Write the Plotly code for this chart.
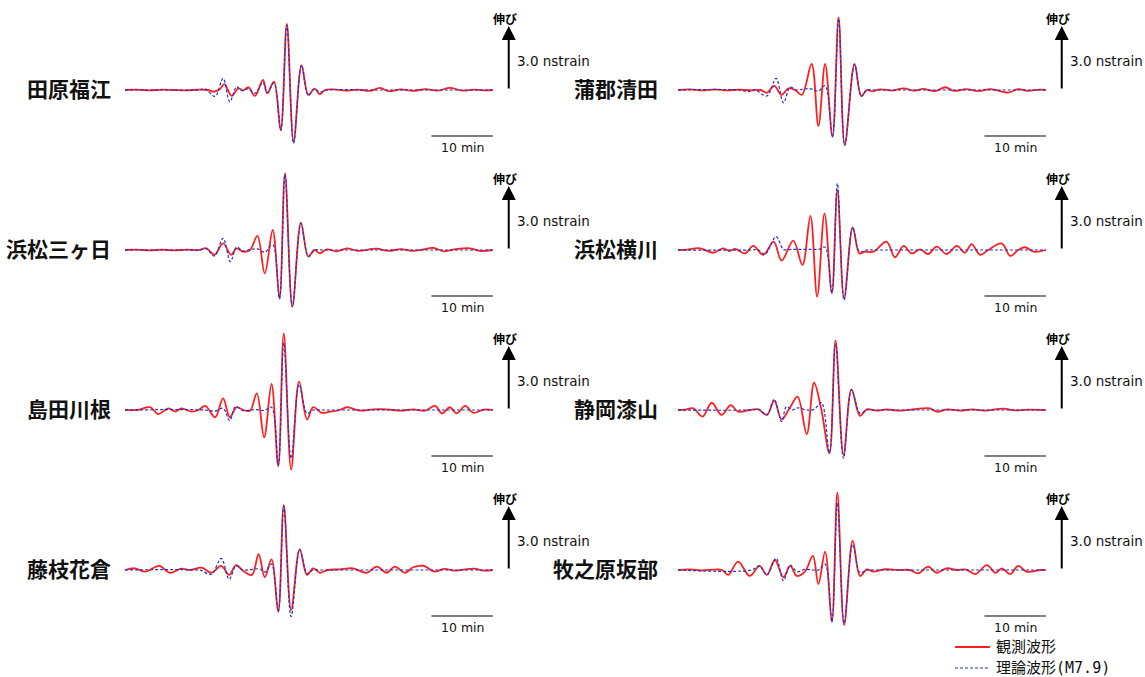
import plotly.graph_objects as go

W, H = 1145, 677

stations = ["田原福江", "蒲郡清田", "浜松三ヶ日", "浜松横川",
            "島田川根", "静岡漆山", "藤枝花倉", "牧之原坂部"]

# ---- observed (red) and theoretical M7.9 (blue) strain, time in min, strain in nstrain ----
tahara_obs_t = [0, 2, 4, 6, 8, 10, 12, 13.5, 14.5, 15.5, 16.2, 17.4, 18.5, 19.3, 20.1, 21.2, 22.5, 23.2, 24.3,
                25.4, 26.4, 27.5, 28.8, 29.9, 30.9, 31.8, 32.6, 34, 36, 38, 40, 41.6, 43, 45, 47, 49, 51, 53, 55,
                57, 59, 60]
tahara_obs_v = [0, 0.02, -0.02, 0.02, 0, -0.02, 0.02, 0, -0.08, 0.05, 0.28, -0.28, 0.08, -0.02, 0.13, -0.28, 0.47,
                -0.16, 0.39, -1.88, 3.10, -2.43, 1.17, -0.23, 0.06, -0.20, 0.0, 0.03, -0.03, 0.02, -0.04, 0.1,
                -0.05, 0.03, -0.04, 0.04, -0.03, 0.1, -0.03, 0.02, -0.02, 0]
tahara_syn_t = [0, 10, 12, 13, 14.7, 16.0, 17.1, 18.2, 19.0, 20.1, 21.2, 22.5, 23.2, 24.3, 25.4, 26.4, 27.5, 28.8,
                29.9, 30.9, 31.8, 33, 40, 50, 60]
tahara_syn_v = [0, 0, 0, 0.06, -0.3, 0.55, -0.55, 0.15, -0.03, 0.05, -0.15, 0.35, -0.12, 0.32, -1.9, 3.05, -2.5,
                1.15, -0.25, 0.05, -0.1, 0, 0, 0, 0]

gamagori_obs_t = [0, 2, 4, 6, 8, 10, 12, 13.5, 14.5, 15.7, 16.9, 18.0, 19.1, 20.2, 21.8, 22.9, 24.0, 25.2, 26.2,
                  27.2, 28.8, 29.9, 30.8, 31.6, 33, 35, 36.8, 38.5, 40, 42, 43.6, 45, 47, 49, 51, 53.9, 55.5, 57,
                  59, 60]
gamagori_obs_v = [0, 0.03, -0.02, 0.03, -0.02, 0.02, -0.02, 0, -0.13, 0.19, -0.23, 0.08, 0, -0.23, 1.22, -1.69,
                  1.22, -2.19, 3.41, -2.58, 1.22, -0.28, 0.0, -0.06, 0.03, -0.03, 0.08, -0.03, 0.05, -0.05, 0.13,
                  -0.04, 0.04, -0.05, 0.04, -0.12, 0.04, -0.04, 0.02, 0]
gamagori_syn_t = [0, 10, 11.5, 12.5, 14.5, 16.0, 17.2, 18.3, 19.3, 20.2, 21.5, 22.9, 24.0, 25.2, 26.2, 27.2, 28.8,
                  29.9, 30.8, 32, 40, 50, 60]
gamagori_syn_v = [0, 0, -0.08, 0.02, -0.28, 0.55, -0.6, 0.13, 0, 0.03, 0.06, -0.05, 0.2, -2.2, 3.35, -2.6, 1.2,
                  -0.3, 0.0, 0, 0, 0, 0]

mikkabi_obs_t = [0, 2, 4, 6, 8, 10, 12, 13.3, 14.6, 16.0, 17.3, 18.2, 19.3, 20.4, 21.6, 22.8, 24.1, 25.2, 26.1,
                 27.3, 28.7, 29.9, 30.9, 31.8, 32.9, 34.5, 36.2, 38, 41, 43, 45, 47, 48.5, 50.3, 52, 54, 56.3, 58,
                 60]
mikkabi_obs_v = [0, 0.02, -0.02, 0.02, -0.02, 0.02, 0, 0.08, -0.23, 0.31, -0.23, 0.08, -0.08, 0, 0.66, -1.1, 0.94,
                 -2.27, 3.6, -2.66, 1.28, -0.31, 0, -0.16, 0.03, -0.06, 0.08, -0.04, 0.06, -0.04, 0.04, -0.04,
                 0.02, 0.1, -0.06, 0.04, 0.08, -0.05, 0]
mikkabi_syn_t = [0, 10, 12, 13.3, 14.6, 16.0, 17.2, 18.2, 19.3, 20.4, 21.6, 22.8, 24.1, 25.2, 26.1, 27.3, 28.7,
                 29.9, 30.9, 32, 40, 50, 60]
mikkabi_syn_v = [0, 0, 0, 0.05, -0.28, 0.55, -0.55, 0.13, -0.05, 0.02, 0.05, -0.1, 0.25, -2.3, 3.55, -2.65, 1.25,
                 -0.3, 0.0, 0, 0, 0, 0]

yokogawa_obs_t = [0, 1.5, 3.6, 5.8, 7.4, 8.4, 9.3, 10.9, 12.3, 13.9, 15.6, 16.9, 18.8, 20.3, 21.6, 22.7, 23.9, 25.1,
                  26.0, 27.1, 28.5, 29.6, 30.5, 31.9, 34.0, 35.4, 36.8, 38.1, 39.5, 40.8, 42.2, 43.8, 45.5, 46.8,
                  47.9, 49.3, 50.6, 52.8, 54.2, 55.5, 56.6, 58.0, 60]
yokogawa_obs_v = [0, 0.02, 0.08, -0.13, 0.08, -0.05, 0.05, -0.16, 0.19, -0.23, 0.39, -0.5, 0.44, -0.7, 1.6, -2.19,
                  1.72, -2.03, 2.82, -2.27, 1.06, -0.16, -0.08, -0.08, 0.39, -0.34, 0.19, -0.16, 0.03, -0.19, 0.16,
                  -0.19, 0.19, -0.13, 0.28, -0.23, 0.0, 0.31, -0.28, 0.0, 0.13, -0.08, 0]
yokogawa_syn_t = [0, 12, 13, 14.2, 16.0, 17.2, 18.5, 20, 22, 23.0, 24.0, 25.1, 26.0, 27.1, 28.5, 29.6, 30.8, 32, 40,
                  50, 60]
yokogawa_syn_v = [0, 0, 0.02, -0.2, 0.63, 0.03, 0.03, 0.03, 0.03, 0.03, 0.13, -2.0, 3.13, -2.35, 1.06, -0.08, 0, 0,
                  0, 0, 0]

kawane_obs_t = [0, 2, 4.1, 5.4, 7.1, 8.2, 9.2, 10.9, 12, 13.1, 14.7, 16.0, 17.1, 18.2, 19.3, 20.4, 21.5, 22.7, 23.9,
                25.0, 25.9, 27.1, 28.4, 29.7, 30.7, 32.1, 33.4, 35, 36.2, 38.3, 40.5, 42.7, 45, 47, 49, 50.6, 51.7,
                53.0, 54.1, 55.5, 56.8, 58.5, 60]
kawane_obs_v = [0, 0, 0.13, -0.19, 0.08, -0.08, 0.08, -0.08, 0, 0.19, -0.34, 0.55, -0.34, 0.13, 0, -0.03, 0.78,
                -1.28, 1.22, -2.63, 3.6, -2.79, 1.33, -0.44, 0.13, -0.13, -0.08, 0.0, 0.13, -0.03, 0.03, 0.03,
                -0.03, 0.03, -0.03, 0.19, -0.16, 0.13, -0.16, 0.19, -0.13, 0.02, 0]
kawane_syn_t = [0, 13, 14.7, 16.0, 17.1, 18.0, 19.3, 20.4, 21.5, 22.7, 23.9, 25.0, 25.9, 27.1, 28.4, 29.7, 30.7, 32,
                40, 50, 60]
kawane_syn_v = [0, 0, -0.05, 0.08, -0.5, 0.15, -0.03, 0.0, 0.02, -0.02, 0.13, -2.6, 3.15, -2.27, 1.2, -0.16, 0, 0,
                0, 0, 0]

urushiyama_obs_t = [0, 1.2, 2.5, 4.0, 5.5, 7.1, 8.6, 9.8, 11.7, 13.1, 14.5, 15.7, 16.9, 18.2, 19.5, 21.0, 22.2,
                    23.4, 24.7, 25.7, 27.0, 28.3, 29.7, 30.8, 32.4, 34, 36, 38, 41.1, 42.2, 44, 46, 48, 50, 53.1,
                    55, 57, 60]
urushiyama_obs_v = [0, 0.02, 0.08, -0.31, 0.34, -0.23, 0.23, -0.08, 0, 0.03, -0.23, 0.44, -0.44, 0.08, 0.63,
                    -1.13, 1.28, 0.0, -2.03, 3.26, -2.11, 0.97, -0.28, 0.03, -0.03, 0.03, -0.03, 0.02, 0.08, -0.08,
                    0.03, -0.03, 0.03, -0.03, 0.06, -0.02, 0.02, 0]
urushiyama_syn_t = [0, 12, 13.2, 14.5, 15.7, 16.9, 17.7, 18.7, 19.5, 21.0, 22.2, 23.4, 24.7, 25.7, 27.0, 28.3,
                    29.7, 30.8, 32, 40, 50, 60]
urushiyama_syn_v = [0, 0, 0.03, -0.23, 0.5, -0.55, 0.16, 0.0, 0.1, 0.0, 0.03, 0.34, -2.0, 3.1, -2.27, 0.95, -0.16,
                    0, 0, 0, 0, 0]

hanakura_obs_t = [0, 1.6, 3.3, 5.6, 7.3, 9.2, 10.6, 12.5, 14.1, 15.7, 17.0, 18.1, 19.3, 20.7, 21.8, 22.8, 23.9,
                  25.0, 25.9, 27.1, 28.5, 29.7, 30.7, 31.8, 33, 35, 37.2, 39.4, 41.1, 42.7, 44.0, 45.7, 47.0, 48.7,
                  50.5, 52, 54, 55.5, 57, 58.5, 60]
hanakura_obs_v = [0, 0.08, -0.08, 0.19, -0.13, 0.06, 0, 0.11, -0.13, 0.19, -0.23, 0.23, -0.05, -0.23, 0.74, -0.34,
                  0.5, -1.96, 3.05, -1.88, 0.97, -0.23, 0.08, -0.13, 0, 0.03, 0.08, -0.13, 0.16, -0.13, 0.16, -0.13,
                  0.13, 0.2, -0.08, 0.05, -0.03, 0.03, 0.06, -0.03, 0]
hanakura_syn_t = [0, 12, 12.5, 14.1, 15.7, 17.0, 18.1, 19.3, 20.7, 22.0, 22.8, 23.9, 25.0, 25.9, 27.1, 28.5, 29.7,
                  30.7, 32, 40, 50, 60]
hanakura_syn_v = [0, 0, -0.03, -0.2, 0.55, -0.44, 0.19, 0, 0.03, 0.05, -0.1, 0.28, -1.96, 3.0, -2.19, 0.97, -0.16,
                  0, 0, 0, 0, 0]

sakabe_obs_t = [0, 2, 4, 6, 7.2, 8.2, 9.8, 11.7, 13.3, 14.5, 15.8, 17.2, 18.3, 19.4, 20.7, 22.0, 22.9, 24.0, 25.1,
                26.0, 27.1, 28.5, 29.7, 30.8, 31.9, 33.5, 36, 37.8, 39.2, 40.8, 42.2, 43.8, 45.5, 47, 48.5, 50.4,
                51.8, 52.8, 54.2, 55.5, 56.9, 59.1, 60]
sakabe_obs_v = [0, 0.03, -0.02, 0.02, 0, -0.23, 0.39, -0.28, 0.19, -0.23, 0.47, -0.34, 0.19, -0.28, -0.08, 0.66,
                -0.66, 0.86, -2.43, 3.63, -2.58, 1.38, -0.28, 0.03, -0.08, 0.03, 0, 0.0, -0.16, 0.16, -0.13, 0.08,
                0, 0.02, -0.19, 0.23, -0.13, 0.08, -0.19, 0.19, -0.08, 0, 0]
sakabe_syn_t = [0, 12, 13.3, 14.5, 16.0, 17.2, 18.3, 19.4, 20.7, 22.0, 22.9, 24.0, 25.1, 26.0, 27.1, 28.5, 29.7,
                30.8, 32, 40, 50, 60]
sakabe_syn_v = [0, 0, 0.19, -0.23, 0.55, -0.5, 0.23, -0.08, 0.03, 0.0, 0.0, 0.28, -2.43, 3.15, -2.5, 1.2, -0.13,
                0, 0, 0, 0, 0]

obs_t = [tahara_obs_t, gamagori_obs_t, mikkabi_obs_t, yokogawa_obs_t,
         kawane_obs_t, urushiyama_obs_t, hanakura_obs_t, sakabe_obs_t]
obs_v = [tahara_obs_v, gamagori_obs_v, mikkabi_obs_v, yokogawa_obs_v,
         kawane_obs_v, urushiyama_obs_v, hanakura_obs_v, sakabe_obs_v]
syn_t = [tahara_syn_t, gamagori_syn_t, mikkabi_syn_t, yokogawa_syn_t,
         kawane_syn_t, urushiyama_syn_t, hanakura_syn_t, sakabe_syn_t]
syn_v = [tahara_syn_v, gamagori_syn_v, mikkabi_syn_v, yokogawa_syn_v,
         kawane_syn_v, urushiyama_syn_v, hanakura_syn_v, sakabe_syn_v]

SCALE_MIN = 10        # time scale bar length
SCALE_NSTRAIN = 3.0   # strain scale arrow length
T_END = 60

# ---- panel geometry (pixels) ----
PX_PER_MIN = 6.13
PX_PER_NS = 21.3
col_t0_px = [125, 678]
col_span_px = [(0, 600), (600, 1145)]
row_base_px = [90, 250, 410, 570]
ROW_HALF = 80
label_right_px = [113, 660]

RED = "#ff1f1f"
BLUE = "#2233cc"
JP = "Noto Sans CJK JP"
LAT = "DejaVu Sans"

fig = go.Figure()
axes = {}
annotations = []
shapes = []

for i, name in enumerate(stations):
    r, c = divmod(i, 2)
    k = i + 1
    sx = "" if k == 1 else str(k)
    xref, yref = "x" + sx, "y" + sx

    x_lo, x_hi = col_span_px[c]
    t0 = col_t0_px[c]
    base = row_base_px[r]
    axes["xaxis" + sx] = dict(
        domain=[x_lo / W, x_hi / W],
        range=[(x_lo - t0) / PX_PER_MIN, (x_hi - t0) / PX_PER_MIN],
        visible=False, fixedrange=True, anchor=yref)
    axes["yaxis" + sx] = dict(
        domain=[1 - (base + ROW_HALF) / H, 1 - (base - ROW_HALF) / H],
        range=[-ROW_HALF / PX_PER_NS, ROW_HALF / PX_PER_NS],
        visible=False, fixedrange=True, anchor=xref)

    fig.add_trace(go.Scatter(
        x=obs_t[i], y=obs_v[i], mode="lines", name="観測波形",
        line=dict(color=RED, width=1.8, shape="spline", smoothing=1.0),
        showlegend=False, xaxis=xref, yaxis=yref, cliponaxis=False))
    fig.add_trace(go.Scatter(
        x=syn_t[i], y=syn_v[i], mode="lines", name="理論波形(M7.9)",
        line=dict(color=BLUE, width=1.2, dash="3px,2px", shape="spline", smoothing=1.0),
        showlegend=False, xaxis=xref, yaxis=yref, cliponaxis=False))

    # time scale bar
    y_bar = -46 / PX_PER_NS
    shapes.append(dict(type="line", xref=xref, yref=yref,
                       x0=T_END - SCALE_MIN, x1=T_END, y0=y_bar, y1=y_bar,
                       line=dict(color="black", width=1.2)))
    annotations.append(dict(xref=xref, yref=yref, x=T_END - SCALE_MIN / 2, y=-57 / PX_PER_NS,
                            text="10 min", showarrow=False, xanchor="center", yanchor="middle",
                            font=dict(family=LAT, size=12.5, color="#111")))

    # strain scale arrow
    t_arrow = 62.6
    annotations.append(dict(xref=xref, yref=yref, axref=xref, ayref=yref,
                            x=t_arrow, y=SCALE_NSTRAIN, ax=t_arrow, ay=0, text="",
                            showarrow=True, arrowhead=2, arrowsize=1.4, arrowwidth=2,
                            arrowcolor="black", standoff=0, startstandoff=0))
    annotations.append(dict(xref=xref, yref=yref, x=t_arrow - 0.6, y=72 / PX_PER_NS,
                            text="<b>伸び</b>", showarrow=False, xanchor="center", yanchor="middle",
                            font=dict(family=JP, size=12, color="black")))
    annotations.append(dict(xref=xref, yref=yref, x=63.7, y=29 / PX_PER_NS,
                            text="3.0 nstrain", showarrow=False, xanchor="left", yanchor="middle",
                            font=dict(family=LAT, size=13.5, color="#111")))

    # station name
    annotations.append(dict(xref="paper", yref="paper", x=label_right_px[c] / W, y=1 - (base - 2) / H,
                            text="<b>" + name + "</b>", showarrow=False, xanchor="right", yanchor="middle",
                            font=dict(family=JP, size=21, color="#111")))

# ---- legend key (bottom right) ----
legend_items = [("観測波形", RED, "solid", 1.8, 645),
                ("理論波形<span style=\"font-family:DejaVu Sans Mono\">(M7.9)</span>", BLUE, "3px,2px", 1.2, 666)]
for label, color, dash, width, ypx in legend_items:
    shapes.append(dict(type="line", xref="paper", yref="paper",
                       x0=955 / W, x1=990 / W, y0=1 - (ypx + 2) / H, y1=1 - (ypx + 2) / H,
                       line=dict(color=color, width=width, dash=dash)))
    annotations.append(dict(xref="paper", yref="paper", x=995 / W, y=1 - ypx / H,
                            text=label, showarrow=False, xanchor="left", yanchor="middle", borderpad=0,
                            font=dict(family=JP, size=15, color="#111")))

fig.update_layout(
    width=W, height=H,
    margin=dict(l=0, r=0, t=0, b=0),
    paper_bgcolor="white", plot_bgcolor="rgba(0,0,0,0)",
    showlegend=False,
    shapes=shapes, annotations=annotations,
    **axes)

fig.write_html("out.html")
